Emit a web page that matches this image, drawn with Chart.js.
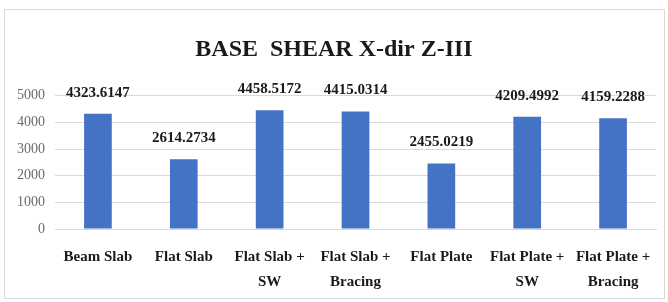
<!DOCTYPE html>
<html>
<head>
<meta charset="utf-8">
<script src="https://cdn.jsdelivr.net/npm/chart.js@4.4.0/dist/chart.umd.min.js"></script>
<style>
  html, body { margin: 0; padding: 0; background: #fff; }
  #wrap { position: relative; width: 668px; height: 302px; }
  #frame {
    position: absolute; left: 4px; top: 9px; width: 659px; height: 288px;
    border: 1px solid #d9d9d9; pointer-events: none;
  }
</style>
</head>
<body>
<div id="wrap">
  <canvas id="chart" width="668" height="302"></canvas>
  <div id="frame"></div>
</div>
<script>
  // categories + values
  const categories = [
    'Beam Slab',
    'Flat Slab',
    ['Flat Slab +', 'SW'],
    ['Flat Slab +', 'Bracing'],
    'Flat Plate',
    ['Flat Plate +', 'SW'],
    ['Flat Plate +', 'Bracing'],
  ];
  const baseShear = [4323.6147, 2614.2734, 4458.5172, 4415.0314, 2455.0219, 4209.4992, 4159.2288];
  const yTicks = [0, 1000, 2000, 3000, 4000, 5000];

  const SERIF = '"Liberation Serif", "Times New Roman", serif';
  const INK = '#1a1a1a';

  // value labels above each bar
  const valueLabels = {
    id: 'valueLabels',
    afterDatasetsDraw(chart) {
      const ctx = chart.ctx;
      const meta = chart.getDatasetMeta(0);
      ctx.save();
      ctx.font = 'bold 15px ' + SERIF;
      ctx.fillStyle = INK;
      ctx.textAlign = 'center';
      ctx.textBaseline = 'middle';
      meta.data.forEach((bar, i) => {
        ctx.fillText(baseShear[i].toFixed(4), bar.x, bar.y - 21);
      });
      ctx.restore();
    },
  };

  new Chart(document.getElementById('chart'), {
    type: 'bar',
    data: {
      labels: categories,
      datasets: [{
        data: baseShear,
        backgroundColor: '#4472c4',
        barPercentage: 0.62,
        categoryPercentage: 0.52,
      }],
    },
    options: {
      responsive: false,
      animation: false,
      layout: { padding: { top: 9, left: 12, right: 12, bottom: 0 } },
      plugins: {
        legend: { display: false },
        tooltip: { enabled: false },
        title: {
          display: true,
          text: 'BASE  SHEAR X-dir Z-III',
          color: INK,
          font: { family: SERIF, size: 24, weight: 'bold', lineHeight: 1.2 },
          padding: { top: 26, bottom: 32 },
        },
      },
      scales: {
        x: {
          afterFit(axis) { axis.height = 73; },
          grid: { display: false, drawTicks: false },
          border: { color: '#d9d9d9' },
          ticks: {
            color: INK,
            padding: 16,
            maxRotation: 0,
            autoSkip: false,
            font: { family: SERIF, size: 15, weight: 'bold', lineHeight: 1.65 },
          },
        },
        y: {
          min: 0,
          max: 5000,
          afterBuildTicks(axis) { axis.ticks = yTicks.map(v => ({ value: v })); },
          afterFit(axis) { axis.width = 43; },
          grid: { color: '#d9d9d9', drawTicks: false },
          border: { display: false },
          ticks: {
            color: '#6b6b6b',
            padding: 10,
            font: { family: SERIF, size: 14 },
            callback: (v) => String(v),
          },
        },
      },
    },
    plugins: [valueLabels],
  });
</script>
</body>
</html>
